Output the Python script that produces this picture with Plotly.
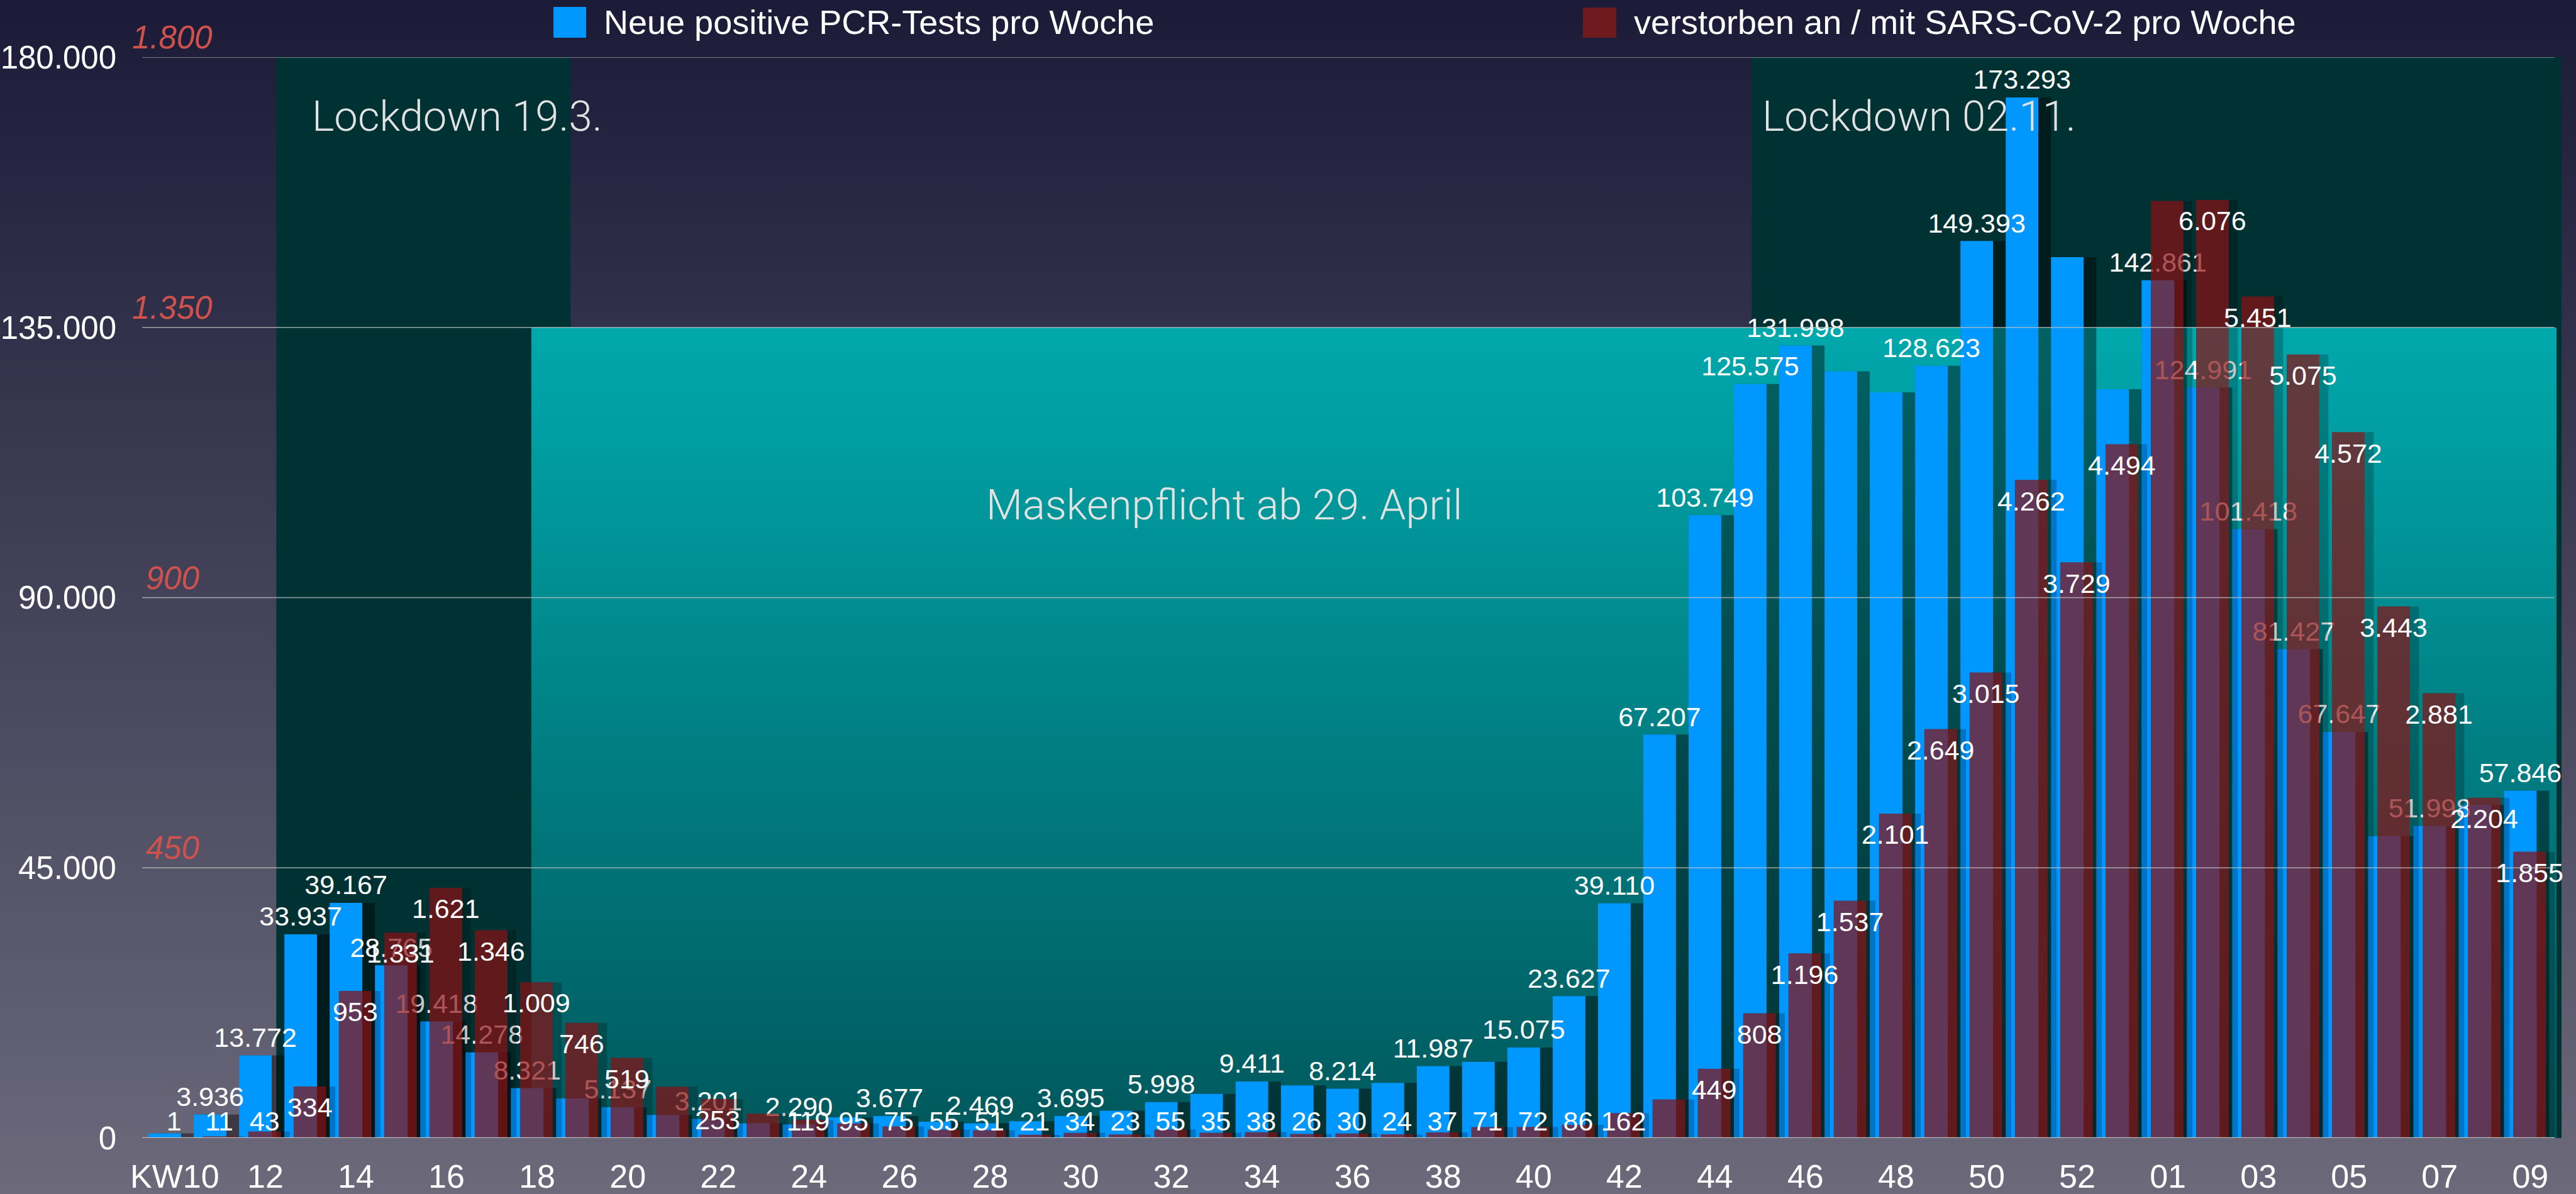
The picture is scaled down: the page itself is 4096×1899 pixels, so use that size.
import base64
import plotly.graph_objects as go

# ---------------- data ----------------
weeks = ["10", "11", "12", "13", "14", "15", "16", "17", "18", "19", "20", "21", "22", "23",
         "24", "25", "26", "27", "28", "29", "30", "31", "32", "33", "34", "35", "36", "37",
         "38", "39", "40", "41", "42", "43", "44", "45", "46", "47", "48", "49", "50", "51",
         "52", "53", "01", "02", "03", "04", "05", "06", "07", "08", "09"]

cases = [790, 3936, 13772, 33937, 39167, 28765, 19418, 14278, 8321, 6600, 5137, 3860, 3201, 2450,
         2290, 3420, 3677, 2720, 2469, 2800, 3695, 4560, 5998, 7360, 9411, 8770, 8214, 9200,
         11987, 12700, 15075, 23627, 39110, 67207, 103749, 125575, 131998, 127700, 124200, 128623,
         149393, 173293, 146700, 124700, 142861, 124991, 101418, 81427, 67647, 50300, 51998,
         55500, 57846]

deaths = [1, 11, 43, 334, 953, 1331, 1621, 1346, 1009, 746, 519, 333, 253, 158,
          119, 95, 75, 55, 51, 21, 34, 23, 55, 35, 38, 26, 30, 24,
          37, 71, 72, 86, 162, 250, 449, 808, 1196, 1537, 2101, 2649, 3015, 4262,
          3729, 4494, 6070, 6076, 5451, 5075, 4572, 3443, 2881, 2204, 1855]

# weeks whose value label is not shown in the original
cases_unlabeled = ["10", "19", "21", "23", "25", "27", "29", "31", "33", "35", "37", "39",
                   "47", "48", "52", "53", "06", "08"]
deaths_unlabeled = ["21", "23", "43", "01"]

x_tick_labels = ["KW10", "12", "14", "16", "18", "20", "22", "24", "26", "28", "30", "32",
                 "34", "36", "38", "40", "42", "44", "46", "48", "50", "52", "01", "03",
                 "05", "07", "09"]
y_tick_values = [0, 45000, 90000, 135000, 180000]
y_tick_labels = ["0", "45.000", "90.000", "135.000", "180.000"]
death_axis_labels = ["450", "900", "1.350", "1.800"]   # red italic labels as printed

legend_cases = "Neue positive PCR-Tests pro Woche"
legend_deaths = "verstorben an / mit SARS-CoV-2 pro Woche"
note_lockdown1 = "Lockdown 19.3."
note_lockdown2 = "Lockdown 02.11."
note_masks = "Maskenpflicht ab 29. April"

# ---------------- layout constants ----------------
W, H = 4096, 1899
ML, MR, MT, MB = 226, 23, 91, 89
PW, PH = W - ML - MR, H - MT - MB
X_RANGE = [-0.5, 52.91]
Y_MAX = 180000
Y2_MAX = 7000
BAR_W = 0.72
RED_SHIFT = 0.203

NUM_FONT = "Helvetica Neue, Helvetica, Liberation Sans, Arial, sans-serif"
LIGHT_FONT = "Roboto, Lato, Liberation Sans, sans-serif"
BLUE = "#0097ff"
RED = "rgba(136,15,18,0.71)"


def fmt(v):
    return f"{v:,}".replace(",", ".")


def px_x(px):
    return (px - ML) / PW


def px_y(py):
    return (H - MB - py) / PH


def svg_uri(svg):
    return "data:image/svg+xml;base64," + base64.b64encode(svg.encode()).decode()


def grad_svg(c_top, c_bot):
    return svg_uri(
        "<svg xmlns='http://www.w3.org/2000/svg' width='100' height='100' viewBox='0 0 100 100' "
        "preserveAspectRatio='none'><defs><linearGradient id='g' x1='0' y1='0' x2='0' y2='1'>"
        f"<stop offset='0' stop-color='{c_top}'/><stop offset='1' stop-color='{c_bot}'/>"
        "</linearGradient></defs><rect x='0' y='0' width='100' height='100' fill='url(#g)'/></svg>")


idx = list(range(len(weeks)))
case_text = ["" if w in cases_unlabeled else fmt(v) for w, v in zip(weeks, cases)]
death_text = ["" if w in deaths_unlabeled else fmt(v) for w, v in zip(weeks, deaths)]
death_label_y = [max(v, 245) for v in deaths]

fig = go.Figure()

# soft shadow of the blue bars (drawn underneath them)
fig.add_trace(go.Bar(
    x=idx, y=cases, width=BAR_W + 0.28, offset=-BAR_W / 2,
    marker=dict(color="rgba(0,0,0,0.42)", line=dict(width=0)),
    hoverinfo="skip", showlegend=False, yaxis="y"))

fig.add_trace(go.Bar(
    x=idx, y=cases, width=BAR_W, offset=-BAR_W / 2,
    marker=dict(color=BLUE, line=dict(width=0)),
    name=legend_cases, showlegend=False, yaxis="y"))

# blue value labels (above every blue bar, below the red bars)
fig.add_trace(go.Scatter(
    x=idx, y=cases, mode="markers+text",
    marker=dict(size=3, opacity=0), text=case_text, textposition="top center",
    textfont=dict(family=NUM_FONT, size=43, color="white"),
    cliponaxis=False, hoverinfo="skip", showlegend=False, yaxis="y"))

# shadow strip right of the red bars
fig.add_trace(go.Bar(
    x=idx, y=deaths, width=0.2, offset=-BAR_W / 2 + RED_SHIFT + BAR_W,
    marker=dict(color="rgba(0,0,0,0.22)", line=dict(width=0)),
    hoverinfo="skip", showlegend=False, yaxis="y2"))

fig.add_trace(go.Bar(
    x=idx, y=deaths, width=BAR_W, offset=-BAR_W / 2 + RED_SHIFT,
    marker=dict(color=RED, line=dict(width=0)),
    name=legend_deaths, showlegend=False, yaxis="y2"))

fig.add_trace(go.Scatter(
    x=[i + RED_SHIFT for i in idx], y=death_label_y, mode="markers+text",
    marker=dict(size=24, opacity=0), text=death_text, textposition="bottom center",
    textfont=dict(family=NUM_FONT, size=43, color="white"),
    cliponaxis=False, hoverinfo="skip", showlegend=False, yaxis="y2"))

# background regions
images = [
    dict(source=grad_svg("#1b1b38", "#6b697a"), xref="paper", yref="paper",
         x=px_x(0), y=px_y(0), sizex=W / PW, sizey=H / PH,
         xanchor="left", yanchor="top", sizing="stretch", layer="below"),
    dict(source=grad_svg("#003234", "#003234"), xref="x", yref="y",
         x=2.46, y=Y_MAX, sizex=8.96 - 2.46, sizey=Y_MAX,
         xanchor="left", yanchor="top", sizing="stretch", layer="below"),
    dict(source=grad_svg("#003234", "#003234"), xref="x", yref="y",
         x=35.03, y=Y_MAX, sizex=X_RANGE[1] - 35.03, sizey=Y_MAX,
         xanchor="left", yanchor="top", sizing="stretch", layer="below"),
    dict(source=grad_svg("#00a8ac", "#00585c"), xref="x", yref="y",
         x=8.09, y=135000, sizex=52.80 - 8.09, sizey=135000,
         xanchor="left", yanchor="top", sizing="stretch", layer="below"),
]

shapes = []
for yv in y_tick_values[1:]:
    shapes.append(dict(type="line", xref="x", yref="y", x0=-0.5, x1=52.75, y0=yv, y1=yv,
                       line=dict(color="rgba(200,200,200,0.75)", width=1.6), layer="above"))
shapes.append(dict(type="line", xref="x", yref="y", x0=-0.5, x1=52.76, y0=0, y1=0,
                   line=dict(color="#b8b8b8", width=2.6), layer="above"))
# legend squares
shapes.append(dict(type="rect", xref="paper", yref="paper", x0=px_x(880), x1=px_x(932),
                   y0=px_y(60), y1=px_y(11), fillcolor=BLUE, line=dict(width=0)))
shapes.append(dict(type="rect", xref="paper", yref="paper", x0=px_x(2517), x1=px_x(2570),
                   y0=px_y(60), y1=px_y(12), fillcolor="#6e1a1f", line=dict(width=0)))

annotations = [
    dict(text=legend_cases, xref="paper", yref="paper", x=px_x(958), y=px_y(35),
         xanchor="left", yanchor="middle", showarrow=False,
         font=dict(family=NUM_FONT, size=54, color="white")),
    dict(text=legend_deaths, xref="paper", yref="paper", x=px_x(2596), y=px_y(35),
         xanchor="left", yanchor="middle", showarrow=False,
         font=dict(family=NUM_FONT, size=54, color="white")),
    dict(text=note_lockdown1, xref="x", yref="y", x=3.22, y=170150,
         xanchor="left", yanchor="middle", showarrow=False,
         font=dict(family=LIGHT_FONT, size=67, color="#e2e2e2", weight=300)),
    dict(text=note_lockdown2, xref="x", yref="y", x=35.24, y=170150,
         xanchor="left", yanchor="middle", showarrow=False,
         font=dict(family=LIGHT_FONT, size=67, color="#e2e2e2", weight=300)),
    dict(text=note_masks, xref="x", yref="y", x=23.39, y=105400,
         xanchor="center", yanchor="middle", showarrow=False,
         font=dict(family=LIGHT_FONT, size=67, color="#e2e2e2", weight=300)),
]
for lab, yv in zip(death_axis_labels, y_tick_values[1:]):
    annotations.append(dict(text=lab, xref="x", yref="y", x=0.17, y=yv,
                            xanchor="center", yanchor="bottom", yshift=1, showarrow=False,
                            font=dict(family=NUM_FONT, size=51, color="#cf524c", style="italic")))

fig.update_layout(
    template="none",
    width=W, height=H, autosize=False,
    margin=dict(l=ML, r=MR, t=MT, b=MB, pad=0),
    paper_bgcolor="#3a3958", plot_bgcolor="rgba(0,0,0,0)",
    barmode="overlay", showlegend=False,
    images=images, shapes=shapes, annotations=annotations,
    xaxis=dict(range=X_RANGE, tickvals=[i + 0.22 for i in idx[::2]], ticktext=x_tick_labels,
               showgrid=False, zeroline=False, showline=False, ticks="",
               tickfont=dict(family=NUM_FONT, size=52, color="white"),
               ticklabelstandoff=26, fixedrange=True),
    yaxis=dict(range=[0, Y_MAX], tickvals=y_tick_values, ticktext=y_tick_labels,
               showgrid=False, zeroline=False, showline=False, ticks="",
               tickfont=dict(family=NUM_FONT, size=51, color="white"),
               ticklabelstandoff=40, fixedrange=True),
    yaxis2=dict(range=[0, Y2_MAX], overlaying="y", visible=False, fixedrange=True),
)

fig.write_html("out.html", config={"displayModeBar": False},
               post_script="document.body.style.margin='0';document.body.style.overflow='hidden';")
